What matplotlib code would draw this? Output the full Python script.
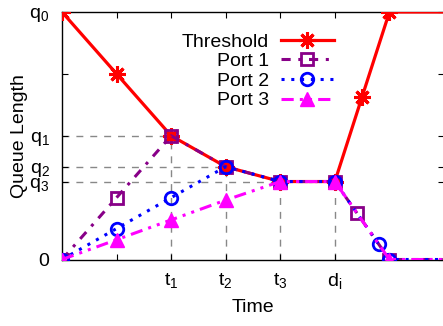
import matplotlib
matplotlib.use("Agg")
import matplotlib.pyplot as plt

plt.rcParams["font.family"] = ["Liberation Sans", "DejaVu Sans"]
plt.rcParams["mathtext.default"] = "regular"

# queue levels
q0, q1, q2, q3 = 10.0, 5.0, 3.75, 3.15

thr_x = [0, 1, 2, 3, 4, 5, 5.5, 6, 7]
thr_y = [10, 7.5, 5, 3.75, 3.15, 3.15, 6.58, 10, 10]

p1_x = [0, 1, 2, 3, 4, 5, 5.4, 6, 7]
p1_y = [0, 2.5, 5, 3.75, 3.15, 3.15, 1.89, 0, 0]

p2_x = [0, 1, 2, 3, 4, 5, 5.8, 6, 7]
p2_y = [0, 1.25, 2.5, 3.75, 3.15, 3.15, 0.63, 0, 0]

p3_x = [0, 1, 2, 3, 4, 5, 6, 7]
p3_y = [0, 0.8, 1.6, 2.4, 3.15, 3.15, 0, 0]

xtick_pos = [1, 2, 3, 4, 5, 6]
xtick_lab = ["", "t$_1$", "t$_2$", "t$_3$", "d$_i$", ""]
ytick_pos = [0, q3, q2, q1, 7.5, q0]
ytick_lab = ["0", "q$_3$", "q$_2$", "q$_1$", "", "q$_0$"]

fig = plt.figure(figsize=(4.43, 3.26), dpi=100)
ax = fig.add_axes([62 / 443, 1 - 259.5 / 326, (444 - 62) / 443, (259.5 - 12) / 326])

# guide lines
gkw = dict(color="#888888", lw=1.0, ls=(0, (5, 5)), zorder=1)
for t, q in [(2, q1), (3, q2), (4, q3)]:
    ax.plot([0, t], [q, q], **gkw)
for t, q in [(2, q1), (3, q2), (4, q3), (5, q3)]:
    ax.plot([t, t], [0, q], **gkw)

ax.plot(thr_x, thr_y, color="#ff0000", lw=2.3, marker=(8, 2, 0), ms=12, mew=2.2,
        markevery=list(range(len(thr_x) - 1)), label="Threshold", zorder=3)
ax.plot(p1_x, p1_y, color="#880088", lw=2.2, ls=(0, (3, 2.5, 1, 2.5)), marker="s", ms=9,
        mfc="none", mew=2.0, markevery=list(range(len(p1_x) - 1)), label="Port 1", zorder=4)
ax.plot(p2_x, p2_y, color="#0000ff", lw=2.2, ls=(0, (1, 2.2)), marker="o", ms=9,
        mfc="none", mew=2.0, markevery=list(range(len(p2_x) - 1)), label="Port 2", zorder=5)
ax.plot(p3_x, p3_y, color="#ff00ff", lw=2.2, ls=(0, (4, 2, 1, 2, 1, 2)), marker="^", ms=10,
        markevery=list(range(len(p3_x) - 1)), label="Port 3", zorder=6)

ax.set_xlim(0, 7)
ax.set_ylim(0, 10)
ax.set_xticks(xtick_pos)
ax.set_xticklabels(xtick_lab)
ax.set_yticks(ytick_pos)
ax.set_yticklabels(ytick_lab)
ax.tick_params(direction="in", length=4, width=0.8, top=True, right=True, labelsize=14)
ax.tick_params(axis="x", pad=8)
ax.tick_params(axis="y", pad=9)
for s in ax.spines.values():
    s.set_linewidth(1.0)

ax.set_xlabel("Time", fontsize=14, labelpad=6)
ax.set_ylabel("Queue Length", fontsize=14, labelpad=1)

leg = ax.legend(loc="upper left", bbox_to_anchor=(0.283, 0.962), markerfirst=False,
                frameon=False, fontsize=14, handlelength=2.75, handletextpad=0.6,
                labelspacing=0.1, borderpad=0.1)

fig.savefig("out.png", dpi=100)
